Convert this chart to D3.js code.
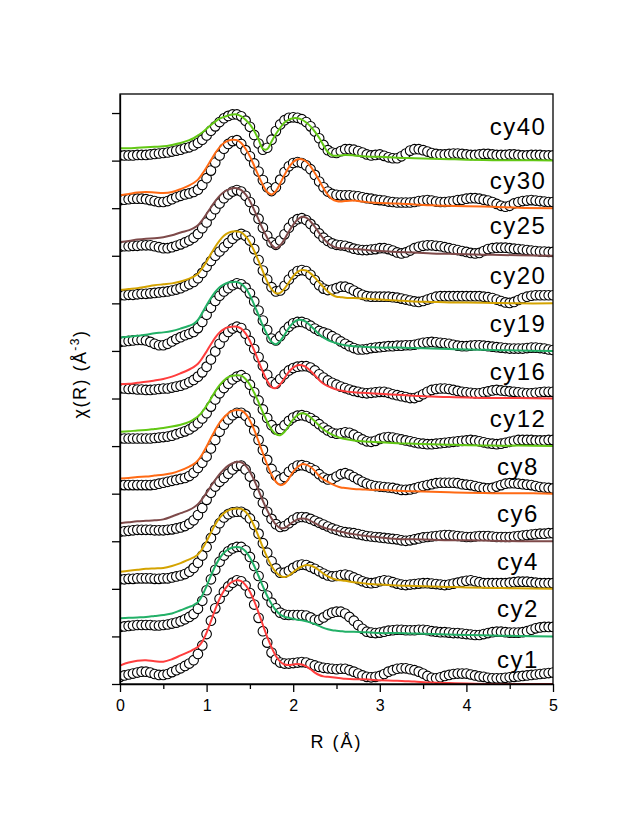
<!DOCTYPE html>
<html>
<head>
<meta charset="utf-8">
<script src="https://cdn.jsdelivr.net/npm/d3@7"></script>
<style>
  html, body { margin: 0; padding: 0; background: #fff; }
  svg { display: block; }
  text { font-family: "Liberation Sans", Arial, sans-serif; fill: #000; }
</style>
</head>
<body>
<svg id="chart" width="629" height="817"></svg>
<script>
// ---------------- DATA ----------------
const labels  = ["cy1","cy2","cy4","cy6","cy8","cy12","cy16","cy19","cy20","cy25","cy30","cy40"];
const offsets = [0, 10, 20, 30, 40, 50, 60, 70, 80, 90, 100, 110];
const colors  = ["#ff3d3d","#22b067","#d4a300","#7e4a4a","#ff6a14","#62c814",
                 "#ff3d3d","#22b067","#d4a300","#7e4a4a","#ff6a14","#62c814"];
const xTicks = [0, 1, 2, 3, 4, 5];
const xMinorTicks = [0.5, 1.5, 2.5, 3.5, 4.5];
const yTicks = [0, 10, 20, 30, 40, 50, 60, 70, 80, 90, 100, 110, 120];

const R_DATA = [0,0.05,0.1,0.15,0.2,0.25,0.3,0.35,0.4,0.45,0.5,0.55,0.6,0.65,0.7,0.75,0.8,0.85,0.9,0.95,
 1,1.05,1.1,1.15,1.2,1.25,1.3,1.35,1.4,1.45,1.5,1.55,1.6,1.65,1.7,1.75,1.8,1.85,1.9,1.95,
 2,2.05,2.1,2.15,2.2,2.25,2.3,2.35,2.4,2.45,2.5,2.55,2.6,2.65,2.7,2.75,2.8,2.85,2.9,2.95,
 3,3.05,3.1,3.15,3.2,3.25,3.3,3.35,3.4,3.45,3.5,3.55,3.6,3.65,3.7,3.75,3.8,3.85,3.9,3.95,
 4,4.05,4.1,4.15,4.2,4.25,4.3,4.35,4.4,4.45,4.5,4.55,4.6,4.65,4.7,4.75,4.8,4.85,4.9,4.95,5];

const R_FIT = [0,0.1,0.2,0.3,0.4,0.5,0.6,0.7,0.8,0.85,0.9,0.95,1,1.05,1.1,1.15,1.2,1.25,1.3,1.35,1.4,1.45,
 1.5,1.55,1.6,1.65,1.7,1.75,1.8,1.85,1.9,1.95,2,2.05,2.1,2.15,2.2,2.25,2.3,2.35,2.4,2.45,2.5,2.55,2.6,
 2.7,2.8,2.9,3,3.2,3.4,3.6,3.8,4,4.3,4.6,5];

// measured (circles), one array per cycle
const exp_cy1 = [1.5,1.8,2.0,2.2,2.4,2.6,2.6,2.4,2.1,1.9, 1.9,2.1,2.5,2.9,3.3,3.8,4.3,5.0,6.3,8.1,
 10.5,13.3,15.9,17.9,19.4,20.5,21.3,21.8,21.6,20.7, 19.1,16.7,13.9,11.1,8.7,6.6,5.2,4.5,4.3,4.3,
 4.4,4.5,4.6,4.5,4.2,3.9,3.6,3.4,3.3,3.2, 3.1,3.2,3.2,2.9,2.6,2.2,1.8,1.5,1.4,1.5,
 1.7,2.1,2.6,2.9,3.2,3.3,3.3,3.1,2.9,2.6, 2.2,1.7,1.3,1.2,1.4,1.7,1.9,2.1,2.2,2.2,
 2.2,2.0,1.8,1.6,1.5,1.3,1.2,1.2,1.2,1.3, 1.4,1.5,1.6,1.7,1.8,1.9,2.0,2.1,2.2,2.3,2.4];
const exp_cy2 = [2.0,2.1,2.2,2.3,2.4,2.4,2.4,2.4,2.3,2.3, 2.4,2.5,2.7,2.9,3.2,3.6,4.1,4.7,5.8,7.5,
 9.7,12.0,14.0,15.7,17.0,17.9,18.5,18.8,18.8,18.1, 16.7,14.8,12.7,10.6,8.6,7.1,5.9,5.0,4.6,4.5,
 4.5,4.5,4.5,4.4,4.0,3.5,3.5,4.0,4.6,5.0, 5.2,5.2,4.8,4.1,3.3,2.4,1.6,1.0,0.8,0.7,
 0.8,1.0,1.2,1.3,1.4,1.4,1.3,1.3,1.3,1.4, 1.4,1.3,1.1,1.0,0.9,0.9,0.8,0.7,0.7,0.6,
 0.5,0.4,0.3,0.3,0.5,0.7,0.9,1.0,1.0,0.9, 0.8,0.8,0.8,0.9,1.1,1.4,1.7,1.9,2.0,2.0,2.0];
const exp_cy4 = [2.0,2.0,2.1,2.1,2.2,2.2,2.2,2.2,2.1,2.1, 2.2,2.2,2.4,2.6,2.8,3.1,3.6,4.4,5.5,7.0,
 8.8,10.7,12.4,13.8,15.0,15.7,16.1,16.2,16.2,15.7, 14.8,13.4,11.6,9.6,7.6,5.8,4.3,3.4,3.4,3.8,
 4.4,4.9,5.1,5.0,4.6,4.2,3.7,3.2,2.8,2.6, 2.7,2.9,3.0,2.8,2.4,2.0,1.6,1.3,1.2,1.3,
 1.6,1.8,1.7,1.4,1.1,0.9,0.8,0.9,1.0,1.1, 1.2,1.2,1.1,1.0,0.9,0.8,0.9,1.1,1.3,1.5,
 1.7,1.8,1.6,1.4,1.2,1.2,1.2,1.2,1.2,1.2, 1.3,1.4,1.5,1.5,1.5,1.4,1.3,1.2,1.2,1.2,1.2];
const exp_cy6 = [2.0,2.1,2.2,2.3,2.4,2.4,2.4,2.4,2.3,2.3, 2.3,2.4,2.5,2.7,2.9,3.2,3.7,4.4,5.5,7.0,
 8.7,10.2,11.5,12.5,13.3,14.2,15.1,15.8,15.9,15.1, 13.6,11.9,10.0,8.1,6.2,4.7,3.6,3.0,3.2,3.8,
 4.5,5.0,5.1,5.0,4.7,4.3,3.9,3.5,3.1,2.7, 2.4,2.1,1.9,1.8,1.7,1.5,1.3,1.1,1.0,0.9,
 0.8,0.7,0.6,0.5,0.4,0.2,0.1,0.2,0.4,0.6, 0.8,0.9,1.0,1.1,1.2,1.3,1.3,1.2,1.1,1.0,
 0.9,0.9,1.0,1.1,1.1,1.1,1.0,0.9,0.9,0.9, 0.9,1.0,1.1,1.2,1.3,1.4,1.5,1.6,1.6,1.7,1.7];
const exp_cy8 = [1.8,1.8,1.8,1.8,1.8,1.8,1.8,1.8,1.9,2.1, 2.3,2.5,2.7,2.9,3.1,3.3,3.7,4.4,5.4,6.5,
 7.8,9.5,11.3,13.0,14.5,15.6,16.5,17.0,17.0,16.4, 15.1,13.3,11.3,9.2,7.1,5.2,3.8,3.0,3.5,4.6,
 5.4,5.9,6.0,5.8,5.4,4.9,4.1,3.4,3.0,3.1, 3.6,4.1,4.3,4.0,3.5,3.0,2.5,2.1,1.8,1.6,
 1.5,1.4,1.3,1.2,1.0,0.8,0.8,0.9,1.1,1.4, 1.6,1.8,2.0,2.2,2.3,2.3,2.3,2.3,2.2,2.0,
 1.9,1.8,1.6,1.4,1.2,1.1,1.2,1.5,1.8,2.1, 2.2,2.2,2.1,2.0,1.9,1.8,1.6,1.4,1.3,1.2,1.1];
const exp_cy12 = [1.6,1.6,1.6,1.6,1.6,1.6,1.6,1.6,1.7,1.8, 1.9,2.0,2.2,2.5,2.8,3.1,3.5,4.1,4.8,5.8,
 6.9,8.3,9.8,11.1,12.2,13.1,14.0,14.6,14.9,14.3, 12.9,11.3,9.6,7.7,5.9,4.4,3.5,3.6,4.4,5.3,
 6.0,6.4,6.5,6.3,5.9,5.3,4.6,3.9,3.3,2.8, 2.6,2.7,2.9,2.8,2.4,1.9,1.4,1.0,0.9,1.1,
 1.5,1.8,1.9,1.8,1.6,1.4,1.2,1.0,0.8,0.6, 0.5,0.4,0.4,0.5,0.6,0.7,0.8,0.9,1.0,1.1,
 1.2,1.3,1.2,1.0,0.8,0.6,0.5,0.4,0.5,0.7, 0.9,1.1,1.3,1.3,1.3,1.3,1.2,1.2,1.2,1.3,1.3];
const exp_cy16 = [2.1,2.1,2.0,2.0,1.9,1.9,1.8,1.8,1.9,2.0, 2.1,2.1,2.3,2.5,2.7,3.0,3.4,3.9,4.6,5.5,
 6.7,8.2,9.9,11.5,12.9,14.0,14.7,15.1,14.8,13.6, 12.1,10.4,8.7,6.9,5.0,3.4,3.1,4.1,5.1,5.9,
 6.4,6.7,6.8,6.8,6.5,5.9,5.1,4.4,3.8,3.3, 2.9,2.5,2.2,1.9,1.6,1.4,1.2,1.1,1.2,1.3,
 1.4,1.4,1.2,0.9,0.7,0.5,0.3,0.1,0.1,0.4, 0.9,1.4,1.8,2.0,2.1,2.1,2.0,1.8,1.6,1.4,
 1.3,1.2,1.1,1.1,1.3,1.5,1.7,1.8,1.7,1.6, 1.5,1.4,1.3,1.2,1.1,1.1,1.2,1.3,1.4,1.4,1.4];
const exp_cy19 = [1.9,2.0,2.1,2.2,2.3,2.3,2.2,1.9,1.5,1.2, 1.2,1.5,2.0,2.5,2.9,3.3,3.6,4.0,4.8,6.1,
 7.6,9.1,10.5,11.6,12.5,13.2,13.8,14.2,14.0,13.3, 12.1,10.4,8.5,6.4,4.4,2.6,2.2,3.1,4.2,5.1,
 5.8,6.1,6.1,5.8,5.3,4.7,4.2,3.9,3.6,3.1, 2.6,2.0,1.5,1.0,0.6,0.3,0.3,0.4,0.6,0.7,
 0.8,0.9,1.0,1.0,1.1,1.1,1.2,1.2,1.3,1.5, 1.7,1.8,1.9,1.8,1.7,1.6,1.5,1.3,1.1,1.0,
 1.0,1.1,1.2,1.2,1.1,1.0,0.9,0.8,0.7,0.6, 0.5,0.5,0.5,0.5,0.6,0.7,0.7,0.6,0.5,0.3,0.2];
const exp_cy20 = [1.7,1.7,1.8,1.8,1.9,2.0,2.0,2.1,2.2,2.3, 2.4,2.5,2.7,2.9,3.2,3.6,4.0,4.5,5.3,6.4,
 7.7,8.9,10.0,10.9,11.8,12.7,13.6,14.3,14.6,14.2, 13.2,11.4,9.1,6.9,5.0,3.4,2.5,2.7,3.7,5.0,
 6.1,6.8,7.0,6.8,6.0,4.9,3.8,3.1,2.8,2.9, 3.2,3.5,3.5,3.2,2.7,2.2,1.8,1.5,1.4,1.4,
 1.4,1.4,1.4,1.3,1.2,1.0,0.8,0.6,0.4,0.3, 0.5,0.8,1.1,1.4,1.5,1.5,1.5,1.5,1.5,1.5,
 1.5,1.5,1.5,1.5,1.4,1.3,1.1,0.8,0.5,0.2, 0.1,0.3,0.7,1.1,1.4,1.6,1.7,1.7,1.7,1.7,1.7];
const exp_cy25 = [1.9,2.0,2.0,2.1,2.1,2.2,2.2,2.2,2.0,1.8, 1.6,1.6,1.8,2.1,2.4,2.8,3.2,3.8,4.6,5.8,
 7.0,8.5,9.8,11.0,12.1,12.9,13.5,13.8,13.5,12.6, 11.3,9.6,7.8,5.9,4.2,2.8,2.3,3.2,4.5,5.9,
 7.1,7.7,7.9,7.5,6.7,5.7,4.7,3.8,3.1,2.6, 2.3,2.2,2.1,1.8,1.5,1.3,1.2,1.2,1.3,1.4,
 1.6,1.6,1.4,1.1,0.7,0.5,0.7,1.1,1.6,1.9, 2.1,2.2,2.2,2.1,2.0,1.8,1.6,1.4,1.2,1.0,
 0.8,0.6,0.5,0.6,1.0,1.4,1.6,1.7,1.7,1.7, 1.6,1.5,1.4,1.3,1.2,1.1,1.0,0.9,0.9,0.8,0.8];
const exp_cy30 = [1.7,1.8,1.9,2.0,2.0,2.0,1.9,1.7,1.5,1.3, 1.3,1.5,1.9,2.3,2.6,2.9,3.1,3.4,3.9,4.9,
 6.3,7.9,9.6,11.1,12.5,13.5,14.1,14.3,13.5,12.2, 10.9,9.4,7.7,5.9,4.4,3.6,4.4,6.0,7.6,8.8,
 9.5,9.7,9.5,9.0,8.2,7.0,5.6,4.4,3.5,3.0, 2.8,2.7,2.7,2.7,2.6,2.5,2.3,2.1,2.0,1.8,
 1.7,1.6,1.4,1.3,1.2,1.2,1.2,1.2,1.3,1.5, 1.6,1.7,1.6,1.4,1.3,1.3,1.4,1.5,1.7,1.8,
 2.0,2.1,2.1,2.0,1.8,1.6,1.3,0.9,0.5,0.3, 0.5,1.0,1.3,1.5,1.6,1.7,1.6,1.5,1.4,1.3,1.3];
const exp_cy40 = [1.1,1.1,1.1,1.1,1.2,1.2,1.2,1.3,1.4,1.5, 1.6,1.7,1.9,2.1,2.3,2.6,2.8,3.2,3.7,4.4,
 5.3,6.3,7.2,8.1,8.9,9.4,9.7,9.7,9.3,8.4, 7.1,5.4,3.6,2.3,2.7,4.4,6.2,7.6,8.5,9.0,
 9.1,9.0,8.7,8.1,7.2,6.1,4.7,3.3,2.2,1.7, 1.6,2.0,2.4,2.4,2.3,2.0,1.7,1.3,1.1,1.2,
 1.3,1.0,0.7,0.5,0.5,0.9,1.5,2.1,2.4,2.4, 2.2,1.9,1.6,1.4,1.3,1.3,1.4,1.5,1.5,1.4,
 1.3,1.2,1.2,1.3,1.4,1.4,1.3,1.2,1.2,1.2, 1.3,1.3,1.2,1.1,1.1,1.2,1.2,1.2,1.1,1.1,1.1];

// fits (coloured lines), sampled on R_FIT
const fit_cy1 = [3.9,4.5,4.9,5.0,4.8,4.7,5.2,6.0,6.8,7.3,7.8,8.9,10.8,13.2,15.7,17.9,19.6,20.8,21.5,21.8,21.6,20.8,
 19.4,17.4,15.0,12.4,9.9,7.7,5.9,4.7,4.1,4.0,4.1,4.2,4.1,3.7,3.1,2.4,1.9,1.6,1.5,1.4,1.3,1.2,1.1,
 1.0,1.0,0.9,0.8,0.7,0.5,0.3,0.2,0.1,0.0,0.0,0.0];
const fit_cy2 = [3.8,3.9,4.0,4.1,4.3,4.5,4.8,5.5,6.2,6.6,7.2,8.6,10.6,12.8,14.8,16.4,17.6,18.3,18.7,18.8,18.6,17.9,
 16.6,14.8,12.7,10.5,8.5,6.8,5.5,4.6,4.1,3.9,3.7,3.5,3.4,3.2,2.9,2.6,2.2,1.8,1.5,1.3,1.2,1.1,1.0,
 1.0,0.9,0.8,0.7,0.7,0.6,0.5,0.4,0.3,0.2,0.1,0.0];
const fit_cy4 = [3.6,3.8,4.0,4.2,4.3,4.4,4.8,5.4,6.2,6.6,7.2,8.4,10.0,11.8,13.5,14.9,15.9,16.5,16.8,16.9,16.8,16.2,
 15.0,13.2,11.0,8.7,6.6,4.8,3.5,2.7,2.5,2.8,3.5,4.2,4.7,5.0,4.9,4.5,3.9,3.2,2.6,2.2,1.9,1.8,1.7,
 1.4,1.2,1.0,0.9,0.7,0.6,0.5,0.4,0.3,0.2,0.1,0.0];
const fit_cy6 = [3.8,4.0,4.2,4.3,4.4,4.6,5.2,5.9,6.6,7.1,7.8,8.9,10.2,11.6,12.9,14.1,15.1,15.9,16.4,16.7,16.6,15.9,
 14.6,12.8,10.7,8.5,6.5,4.8,3.5,2.8,2.8,3.4,4.1,4.6,4.8,4.7,4.3,3.8,3.3,2.9,2.6,2.4,2.2,2.0,1.8,
 1.5,1.2,1.0,0.8,0.5,0.4,0.3,0.2,0.2,0.1,0.0,0.0];
const fit_cy8 = [3.2,3.3,3.5,3.6,3.8,4.0,4.3,4.9,5.7,6.2,7.0,8.3,9.9,11.7,13.4,14.9,16.0,16.9,17.4,17.6,17.5,16.8,
 15.4,13.4,11.0,8.5,6.1,4.0,2.5,1.8,2.1,3.2,4.6,5.6,6.2,6.1,5.6,4.8,3.7,3.0,2.5,2.0,1.6,1.3,1.2,
 1.0,0.9,0.8,0.8,0.6,0.5,0.4,0.3,0.2,0.1,0.1,0.0];
const fit_cy12 = [3.0,3.1,3.3,3.4,3.6,3.8,4.1,4.5,5.1,5.6,6.2,7.2,8.5,10.0,11.5,12.8,13.8,14.5,14.8,14.9,14.8,14.1,
 12.9,11.2,9.2,7.1,5.1,3.5,2.5,2.3,3.0,4.3,5.6,6.5,6.9,6.7,6.0,5.2,4.3,3.5,2.9,2.4,2.0,1.7,1.5,
 1.2,1.0,0.9,0.8,0.6,0.5,0.4,0.3,0.2,0.1,0.1,0.0];
const fit_cy16 = [3.0,3.1,3.3,3.5,3.8,4.1,4.6,5.3,6.1,6.6,7.3,8.5,9.9,11.4,12.8,13.9,14.6,15.0,15.1,15.1,14.7,13.7,
 12.1,10.1,7.8,5.6,3.7,2.4,2.2,3.0,4.3,5.6,6.5,7.0,7.0,6.6,5.8,4.9,3.9,3.1,2.6,2.2,1.9,1.7,1.5,
 1.3,1.2,1.1,1.0,0.8,0.6,0.4,0.3,0.2,0.1,0.1,0.0];
const fit_cy19 = [2.8,3.0,3.2,3.4,3.7,3.9,4.2,4.7,5.3,5.7,6.5,8.0,9.6,11.1,12.4,13.4,14.0,14.4,14.5,14.5,14.1,13.2,
 11.7,9.7,7.5,5.3,3.4,1.9,1.4,2.1,3.4,4.8,5.9,6.5,6.5,6.1,5.3,4.4,3.5,2.8,2.3,1.9,1.6,1.4,1.2,
 1.0,0.9,0.8,0.7,0.7,0.6,0.5,0.4,0.3,0.2,0.1,0.0];
const fit_cy20 = [2.8,3.0,3.2,3.5,3.8,4.0,4.2,4.6,5.2,5.6,6.2,7.4,8.8,10.4,11.9,13.2,14.2,14.8,15.1,15.1,14.9,14.1,
 12.8,11.0,8.9,6.7,4.6,3.0,2.1,2.2,3.1,4.4,5.7,6.6,7.0,6.9,6.3,5.4,4.4,3.4,2.5,1.8,1.4,1.3,1.2,
 1.1,1.0,0.9,0.8,0.6,0.4,0.3,0.2,0.2,0.1,0.0,0.0];
const fit_cy25 = [2.9,3.1,3.4,3.6,3.7,3.9,4.3,4.9,5.4,5.8,6.4,7.5,8.8,10.2,11.5,12.6,13.4,13.9,14.2,14.2,13.8,12.9,
 11.5,9.6,7.6,5.6,3.8,2.3,1.6,2.2,3.5,5.1,6.5,7.6,8.2,8.0,7.2,6.1,4.8,3.6,2.7,2.1,1.7,1.6,1.6,
 1.4,1.3,1.1,1.0,0.8,0.7,0.5,0.4,0.3,0.2,0.1,0.0];
const fit_cy30 = [2.7,3.0,3.3,3.4,3.3,3.2,3.4,4.0,4.8,5.3,6.0,7.2,8.6,10.1,11.6,12.8,13.7,14.2,14.4,14.3,13.7,12.5,
 10.9,8.9,6.8,4.9,3.4,2.9,3.6,5.2,7.0,8.6,9.7,10.3,10.3,9.8,8.8,7.4,5.8,4.2,2.8,1.9,1.5,1.4,1.5,
 1.6,1.4,1.2,1.1,1.0,0.8,0.6,0.5,0.4,0.3,0.1,0.0];
const fit_cy40 = [2.6,2.6,2.7,2.8,2.9,3.0,3.3,3.7,4.3,4.7,5.3,5.9,6.7,7.5,8.2,8.8,9.2,9.5,9.7,9.7,9.3,8.6,
 7.6,6.2,4.4,2.5,2.4,4.0,5.6,6.9,8.0,8.6,8.9,8.9,8.6,8.0,7.2,6.1,4.8,3.2,1.8,1.1,1.0,1.1,1.2,
 1.1,0.9,0.8,0.8,0.6,0.5,0.4,0.3,0.2,0.1,0.1,0.0];

const expSeries = [exp_cy1, exp_cy2, exp_cy4, exp_cy6, exp_cy8, exp_cy12, exp_cy16, exp_cy19, exp_cy20, exp_cy25, exp_cy30, exp_cy40];
const fitSeries = [fit_cy1, fit_cy2, fit_cy4, fit_cy6, fit_cy8, fit_cy12, fit_cy16, fit_cy19, fit_cy20, fit_cy25, fit_cy30, fit_cy40];

// label vertical nudges in px (layout only)
const labelNudge = [3, 0, 0, 0, 0, 0, 0, 0, 0, -3, 0, -7];

// ---------------- CHART ----------------
const svg = d3.select("#chart");
const M = { left: 120, right: 553, top: 94, bottom: 684 };
const x = d3.scaleLinear().domain([0, 5]).range([M.left, M.right]);
const y = d3.scaleLinear().domain([0, 124]).range([M.bottom, M.top]);

const plot = svg.append("g");
const clipId = "plotclip";
svg.append("defs").append("clipPath").attr("id", clipId)
  .append("rect").attr("x", M.left).attr("y", M.top)
  .attr("width", M.right - M.left).attr("height", M.bottom - M.top);

const body = plot.append("g").attr("clip-path", `url(#${clipId})`);

const line = d3.line().x(d => x(d[0])).y(d => y(d[1])).curve(d3.curveCatmullRom.alpha(0.5));

for (let i = labels.length - 1; i >= 0; i--) {
  const off = offsets[i];
  const g = body.append("g").attr("class", "series " + labels[i]);
  const pts = R_DATA.map((r, j) => [r, expSeries[i][j] + off]);
  g.selectAll("circle").data(pts).join("circle")
    .attr("cx", d => x(d[0])).attr("cy", d => y(d[1])).attr("r", 4.8)
    .attr("fill", "#fff").attr("stroke", "#000").attr("stroke-width", 1.1);
  const fpts = R_FIT.map((r, j) => [r, fitSeries[i][j] + off]);
  g.append("path").datum(fpts).attr("d", line)
    .attr("fill", "none").attr("stroke", colors[i]).attr("stroke-width", 2);
}

// labels
labels.forEach((lab, i) => {
  svg.append("text").attr("x", 518).attr("y", y(offsets[i]) - 19 + labelNudge[i])
    .attr("text-anchor", "middle").style("font-size", "24px").style("letter-spacing", "1.5px")
    .text(lab);
});

// frame
svg.append("rect").attr("x", M.left).attr("y", M.top)
  .attr("width", M.right - M.left).attr("height", M.bottom - M.top)
  .attr("fill", "none").attr("stroke", "#000").attr("stroke-width", 1.3);

// x axis
const xAxis = svg.append("g").attr("transform", `translate(0,${M.bottom})`)
  .call(d3.axisBottom(x).tickValues(xTicks).tickSize(8).tickSizeOuter(0).tickPadding(8).tickFormat(d3.format("d")));
xAxis.select(".domain").attr("stroke-width", 1.3);
xAxis.selectAll(".tick line").attr("stroke-width", 1.3);
xAxis.selectAll(".tick text").style("font-size", "16px").style("font-family", "Liberation Sans, Arial, sans-serif");
const xMinor = svg.append("g").attr("transform", `translate(0,${M.bottom})`)
  .call(d3.axisBottom(x).tickValues(xMinorTicks).tickSize(5).tickSizeOuter(0).tickFormat(""));
xMinor.select(".domain").remove();
xMinor.selectAll(".tick line").attr("stroke-width", 1.3);

// y axis
const yAxis = svg.append("g").attr("transform", `translate(${M.left},0)`)
  .call(d3.axisLeft(y).tickValues(yTicks).tickSize(8).tickSizeOuter(0).tickFormat(""));
yAxis.select(".domain").attr("stroke-width", 1.3);
yAxis.selectAll(".tick line").attr("stroke-width", 1.3);

// axis titles
svg.append("text").attr("x", (M.left + M.right) / 2).attr("y", 748)
  .attr("text-anchor", "middle").style("font-size", "18px").style("letter-spacing", "2px")
  .text("R (Å)");

const yt = svg.append("text")
  .attr("transform", `translate(86,374) rotate(-90)`)
  .attr("text-anchor", "middle").style("font-size", "18px").style("letter-spacing", "1.5px");
yt.append("tspan").text("χ(R) (Å");
yt.append("tspan").attr("dy", -7).style("font-size", "12px").text("-3");
yt.append("tspan").attr("dy", 7).text(")");
</script>
</body>
</html>
